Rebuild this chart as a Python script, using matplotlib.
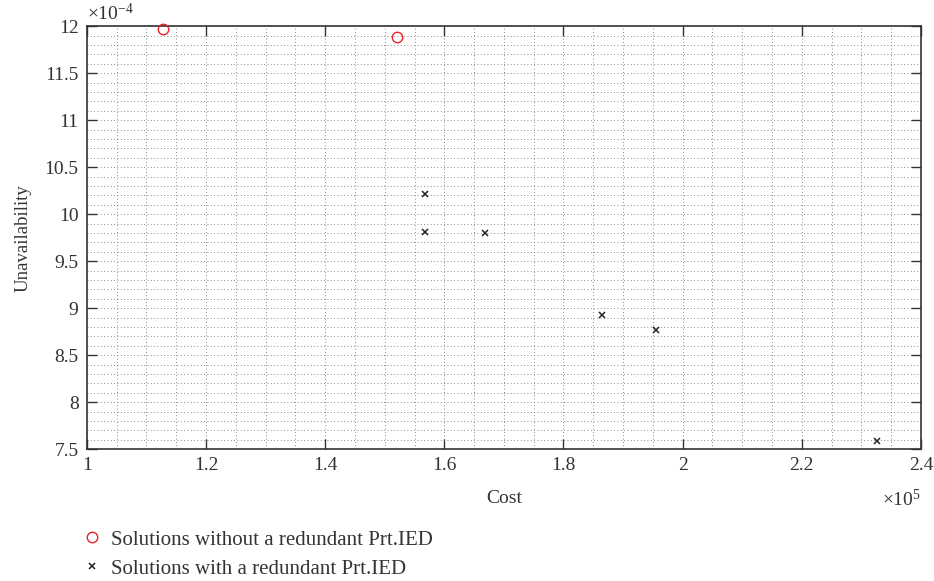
import matplotlib
matplotlib.use("Agg")
import matplotlib.pyplot as plt
from matplotlib.ticker import MultipleLocator, FormatStrFormatter

plt.rcParams['font.family'] = ['Liberation Serif', 'DejaVu Serif']
plt.rcParams['mathtext.fontset'] = 'custom'
plt.rcParams['mathtext.rm'] = 'Liberation Serif'
plt.rcParams['mathtext.it'] = 'Liberation Serif:italic'

# Cost (x 1e5) and unavailability (x 1e-4) of each solution
cost_no_red = [1.128, 1.521]
unav_no_red = [11.965, 11.886]

cost_red = [1.568, 1.568, 1.668, 1.864, 1.956, 2.327]
unav_red = [10.21, 9.812, 9.795, 8.926, 8.766, 7.585]

fig = plt.figure(figsize=(9.34, 5.81), dpi=100)
ax = fig.add_axes([0.093, 0.227, 0.893, 0.728])

ax.plot(cost_no_red, unav_no_red, linestyle='none', marker='o', markersize=7.5,
        markerfacecolor='none', markeredgecolor='#e8202a', markeredgewidth=1.0,
        label='Solutions without a redundant Prt.IED', clip_on=False, zorder=3)
ax.plot(cost_red, unav_red, linestyle='none', marker='x', markersize=5,
        color='#222222', markeredgewidth=1.1,
        label='Solutions with a redundant Prt.IED', clip_on=False, zorder=3)

ax.set_xlim(1, 2.4)
ax.set_ylim(7.5, 12)
ax.xaxis.set_major_locator(MultipleLocator(0.2))
ax.xaxis.set_minor_locator(MultipleLocator(0.05))
ax.yaxis.set_major_locator(MultipleLocator(0.5))
ax.yaxis.set_minor_locator(MultipleLocator(0.1))
ax.xaxis.set_major_formatter(FormatStrFormatter('%g'))
ax.yaxis.set_major_formatter(FormatStrFormatter('%g'))

ax.grid(True, which='both', linestyle=(0, (1, 3)), linewidth=0.6, color='0.4')
ax.set_axisbelow(True)
ax.tick_params(which='major', direction='in', length=7, width=1.0,
               top=True, right=True, labelsize=14, pad=6, colors='#333333',
               labelcolor='#333333')
ax.tick_params(which='minor', length=0)
for s in ax.spines.values():
    s.set_linewidth(1.2)
    s.set_color('#333333')

ax.set_xlabel('Cost', fontsize=14, color='#333333', labelpad=11)
ax.set_ylabel('Unavailability', fontsize=13.5, color='#333333', labelpad=9)

# axis scale factors
ax.text(0.0, 1.004, '×10$^{\\mathrm{-}4}$', transform=ax.transAxes, fontsize=14,
        color='#333333', ha='left', va='bottom')
ax.text(1.0, -0.095, '×10$^{5}$', transform=ax.transAxes, fontsize=14,
        color='#333333', ha='right', va='top')

fig.legend(loc='upper left', bbox_to_anchor=(0.066, 0.12), frameon=False,
           fontsize=15, labelspacing=0.45, handletextpad=0.35, handlelength=1.1,
           labelcolor='#333333')

fig.savefig('out.png', dpi=100)
